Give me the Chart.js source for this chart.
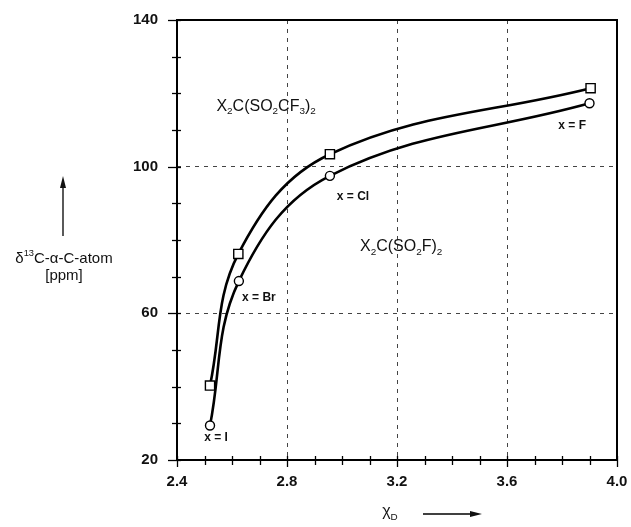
<!DOCTYPE html>
<html>
<head>
<meta charset="utf-8">
<script src="https://cdn.jsdelivr.net/npm/chart.js@4.4.1/dist/chart.umd.min.js"></script>
<style>
  html, body { margin: 0; padding: 0; background: #fff; }
  #wrap { width: 631px; height: 527px; }
</style>
</head>
<body>
<div id="wrap"><canvas id="grafico" width="631" height="527"></canvas></div>
<script>
// dados
const halogenios = ["I", "Br", "Cl", "F"];
const chiX = [2.52, 2.623, 2.956, 3.904];
const deltaCF3 = [40.3, 76.2, 103.4, 121.4];   // X2C(SO2CF3)2, quadrados
const chiXF = [2.52, 2.625, 2.956, 3.90];
const deltaF = [29.4, 68.8, 97.5, 117.3];      // X2C(SO2F)2, círculos

const xTicks = [2.4, 2.8, 3.2, 3.6, 4.0];
const yTicks = [20, 60, 100, 140];

// rótulos no gráfico (posição em unidades dos eixos)
const rotulos = [
    { seg: [["x = I"]], x: 2.542, y: 26.0 },
    { seg: [["x = Br"]], x: 2.698, y: 64.2 },
    { seg: [["x = Cl"]], x: 3.04, y: 91.7 },
    { seg: [["x = F"]], x: 3.837, y: 111.1 }
];
const formulas = [
    { seg: [["X"], ["2", "sub"], ["C(SO"], ["2", "sub"], ["CF"], ["3", "sub"], [")"], ["2", "sub"]], x: 2.724, y: 116.3 },
    { seg: [["X"], ["2", "sub"], ["C(SO"], ["2", "sub"], ["F)"], ["2", "sub"]], x: 3.215, y: 78.1 }
];

const FONTE = '"Liberation Sans", Arial, sans-serif';

function pontos(xs, ys) {
    return xs.map((x, i) => ({ x: x, y: ys[i] }));
}

// desenha texto com subscrito/sobrescrito centralizado em (cx, cy)
function textoRico(ctx, seg, cx, cy, tam, peso) {
    const medidas = seg.map(s => {
        const t = s[1] ? tam * 0.62 : tam;
        ctx.font = `${peso} ${t}px ${FONTE}`;
        return ctx.measureText(s[0]).width;
    });
    const total = medidas.reduce((a, b) => a + b, 0);
    let x = cx - total / 2;
    ctx.textBaseline = "middle";
    ctx.textAlign = "left";
    seg.forEach((s, i) => {
        let t = tam, dy = 0;
        if (s[1] === "sub") { t = tam * 0.62; dy = tam * 0.3; }
        if (s[1] === "sup") { t = tam * 0.62; dy = -tam * 0.35; }
        ctx.font = `${peso} ${t}px ${FONTE}`;
        ctx.fillText(s[0], x, cy + dy);
        x += medidas[i];
    });
}

function seta(ctx, x1, y1, x2, y2) {
    const ang = Math.atan2(y2 - y1, x2 - x1);
    ctx.beginPath();
    ctx.moveTo(x1, y1);
    ctx.lineTo(x2 - 8 * Math.cos(ang), y2 - 8 * Math.sin(ang));
    ctx.lineWidth = 1.3;
    ctx.stroke();
    ctx.beginPath();
    ctx.moveTo(x2, y2);
    ctx.lineTo(x2 - 12 * Math.cos(ang) + 3 * Math.sin(ang), y2 - 12 * Math.sin(ang) - 3 * Math.cos(ang));
    ctx.lineTo(x2 - 12 * Math.cos(ang) - 3 * Math.sin(ang), y2 - 12 * Math.sin(ang) + 3 * Math.cos(ang));
    ctx.closePath();
    ctx.fill();
}

const moldura = {
    id: "moldura",
    afterDraw(chart) {
        const { ctx, chartArea: a, scales } = chart;
        const sx = scales.x, sy = scales.y;
        ctx.save();
        ctx.setLineDash([]);
        ctx.strokeStyle = "#000";
        ctx.fillStyle = "#000";

        // marcas dos eixos
        ctx.lineWidth = 1.3;
        for (let v = 2.4; v <= 4.0001; v += 0.1) {
            const px = Math.round(sx.getPixelForValue(v)) + 0.5;
            const maior = Math.abs((v - 2.4) / 0.4 - Math.round((v - 2.4) / 0.4)) < 1e-6;
            ctx.beginPath();
            ctx.moveTo(px, a.bottom - 4);
            ctx.lineTo(px, a.bottom + (maior ? 7 : 5));
            ctx.stroke();
        }
        for (let v = 20; v <= 140; v += 10) {
            const py = Math.round(sy.getPixelForValue(v)) + 0.5;
            const maior = (v - 20) % 40 === 0;
            ctx.beginPath();
            ctx.moveTo(a.left - (maior ? 9 : 5), py);
            ctx.lineTo(a.left + 4, py);
            ctx.stroke();
        }

        // moldura
        ctx.lineWidth = 2;
        ctx.strokeRect(a.left, a.top, a.right - a.left, a.bottom - a.top);

        // rótulos
        ctx.fillStyle = "#111";
        rotulos.forEach(r => {
            textoRico(ctx, r.seg, sx.getPixelForValue(r.x), sy.getPixelForValue(r.y), 12, "bold");
        });
        formulas.forEach(r => {
            textoRico(ctx, r.seg, sx.getPixelForValue(r.x), sy.getPixelForValue(r.y), 16, "normal");
        });

        // título do eixo y
        textoRico(ctx, [["δ"], ["13", "sup"], ["C-α-C-atom"]], 64, 259, 15, "normal");
        textoRico(ctx, [["[ppm]"]], 64, 276, 15, "normal");
        seta(ctx, 63, 236, 63, 176);

        // título do eixo x
        textoRico(ctx, [["χ"], ["D", "sub"]], 390, 512, 16, "normal");
        seta(ctx, 423, 514, 482, 514);

        ctx.restore();
    }
};

const gradeCor = (c) => {
    const v = c.tick.value;
    return (Math.abs(v - c.scale.min) < 1e-6 || Math.abs(v - c.scale.max) < 1e-6) ? "rgba(0,0,0,0)" : "#444";
};

const ctx = document.getElementById("grafico").getContext("2d");
new Chart(ctx, {
    type: "line",
    data: {
        datasets: [{
            label: "X2C(SO2CF3)2",
            data: pontos(chiX, deltaCF3),
            borderColor: "#000",
            borderWidth: 2.6,
            tension: 0.38,
            pointStyle: "rect",
            pointRadius: 6.5,
            pointBackgroundColor: "#fff",
            pointBorderColor: "#000",
            pointBorderWidth: 1.4,
            fill: false
        }, {
            label: "X2C(SO2F)2",
            data: pontos(chiXF, deltaF),
            borderColor: "#000",
            borderWidth: 2.6,
            tension: 0.38,
            pointStyle: "circle",
            pointRadius: 4.5,
            pointBackgroundColor: "#fff",
            pointBorderColor: "#000",
            pointBorderWidth: 1.4,
            fill: false
        }]
    },
    plugins: [moldura],
    options: {
        responsive: false,
        animation: false,
        layout: { padding: { top: 20, right: 14, left: 0, bottom: 0 } },
        plugins: {
            legend: { display: false },
            tooltip: { enabled: false }
        },
        scales: {
            x: {
                type: "linear",
                min: 2.4,
                max: 4.0,
                afterBuildTicks: (s) => { s.ticks = xTicks.map(v => ({ value: v })); },
                afterFit: (s) => { s.height = 67; s.paddingLeft = 0; s.paddingRight = 0; },
                ticks: {
                    padding: 13,
                    color: "#111",
                    font: { family: FONTE, size: 15, weight: "bold" },
                    callback: (v) => Number(v).toFixed(1)
                },
                grid: { color: gradeCor, lineWidth: 1, drawTicks: false },
                border: { display: false, dash: [4, 5] }
            },
            y: {
                min: 20,
                max: 140,
                afterBuildTicks: (s) => { s.ticks = yTicks.map(v => ({ value: v })); },
                afterFit: (s) => { s.width = 177; s.paddingTop = 0; s.paddingBottom = 0; },
                ticks: {
                    padding: 19,
                    color: "#111",
                    font: { family: FONTE, size: 15, weight: "bold" }
                },
                grid: { color: gradeCor, lineWidth: 1, drawTicks: false },
                border: { display: false, dash: [4, 5] }
            }
        }
    }
});
</script>
</body>
</html>
